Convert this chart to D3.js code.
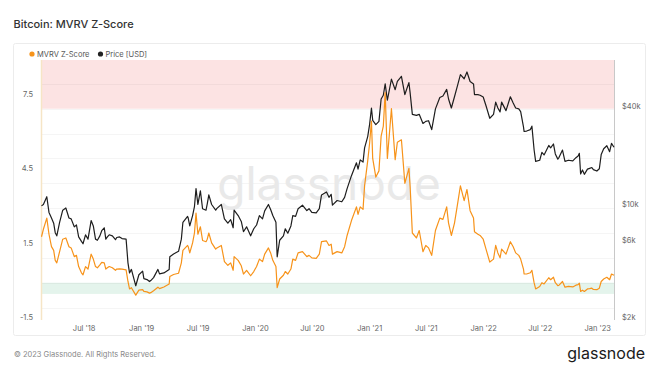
<!DOCTYPE html>
<html>
<head>
<meta charset="utf-8">
<script src="https://cdn.jsdelivr.net/npm/d3@7"></script>
<style>
  body { margin: 0; background: #fff; }
  svg { display: block; font-family: Inter, "Open Sans", sans-serif; }
</style>
</head>
<body>
<div id="chart"></div>
<script>
/////////////////////////////////////
///      DATA
/////////////////////////////////////

var dates = [
  // 2018
  "2018-02-16","2018-02-22","2018-03-05","2018-03-12","2018-03-20","2018-03-27","2018-04-01","2018-04-06","2018-04-15","2018-04-25",
  "2018-05-05","2018-05-15","2018-05-22","2018-06-01","2018-06-08","2018-06-15","2018-06-24","2018-06-29","2018-07-07","2018-07-15",
  "2018-07-25","2018-08-01","2018-08-08","2018-08-14","2018-08-22","2018-08-28","2018-09-05","2018-09-10","2018-09-15","2018-09-21",
  "2018-10-01","2018-10-11","2018-10-15","2018-10-24","2018-11-01","2018-11-14","2018-11-20","2018-11-25","2018-12-01","2018-12-15",
  "2018-12-25",
  // 2019
  "2019-01-06","2019-01-10","2019-01-20","2019-01-28","2019-02-01","2019-02-10","2019-02-24","2019-03-01","2019-03-15","2019-04-01",
  "2019-04-03","2019-04-15","2019-05-01","2019-05-10","2019-05-15","2019-05-30","2019-06-01","2019-06-06","2019-06-15","2019-06-21",
  "2019-06-26","2019-07-02","2019-07-10","2019-07-17","2019-07-28","2019-08-01","2019-08-06","2019-08-15","2019-08-28","2019-09-01",
  "2019-09-15","2019-09-25","2019-10-06","2019-10-15","2019-10-23","2019-10-26","2019-11-08","2019-11-18","2019-11-25","2019-12-05",
  "2019-12-18","2019-12-28",
  // 2020
  "2020-01-06","2020-01-15","2020-01-25","2020-02-01","2020-02-13","2020-02-20","2020-02-27","2020-03-08","2020-03-12","2020-03-20",
  "2020-04-01","2020-04-07","2020-04-15","2020-04-25","2020-05-01","2020-05-10","2020-05-18","2020-06-01","2020-06-15","2020-06-22",
  "2020-07-01","2020-07-15","2020-07-25","2020-08-01","2020-08-17","2020-08-25","2020-09-01","2020-09-05","2020-09-20","2020-10-05",
  "2020-10-14","2020-10-22","2020-11-05","2020-11-21","2020-11-26","2020-12-03","2020-12-12","2020-12-17","2020-12-27",
  // 2021
  "2021-01-02","2021-01-08","2021-01-12","2021-01-22","2021-02-01","2021-02-08","2021-02-15","2021-02-21","2021-02-28","2021-03-13",
  "2021-03-25","2021-04-01","2021-04-14","2021-04-25","2021-05-08","2021-05-12","2021-05-19","2021-06-01","2021-06-10","2021-06-22",
  "2021-07-01","2021-07-10","2021-07-20","2021-08-01","2021-08-15","2021-08-25","2021-09-06","2021-09-12","2021-09-21","2021-10-01",
  "2021-10-10","2021-10-20","2021-11-01","2021-11-10","2021-11-20","2021-12-01","2021-12-04","2021-12-15","2021-12-22",
  // 2022
  "2022-01-01","2022-01-10","2022-01-22","2022-02-03","2022-02-10","2022-02-17","2022-02-24","2022-03-01","2022-03-15","2022-03-29",
  "2022-04-07","2022-04-15","2022-04-25","2022-05-01","2022-05-10","2022-05-12","2022-05-20","2022-06-01","2022-06-06","2022-06-13",
  "2022-06-18","2022-07-01","2022-07-08","2022-07-15","2022-07-30","2022-08-05","2022-08-14","2022-08-20","2022-08-28","2022-09-01",
  "2022-09-12","2022-09-20","2022-10-01","2022-10-15","2022-10-25","2022-11-01","2022-11-05","2022-11-09","2022-11-15","2022-11-21",
  "2022-12-01","2022-12-08","2022-12-15","2022-12-20","2022-12-31",
  // 2023
  "2023-01-08","2023-01-14","2023-01-22","2023-02-01","2023-02-10","2023-02-16","2023-02-24"
];

var mvrvZ = [
  // 2018
  1.85,2.15,2.6,1.95,1.45,1.3,0.9,0.8,1.25,1.75,
  1.8,1.45,1.4,1.05,1.1,0.65,0.4,0.32,0.65,0.55,
  1.15,0.95,0.65,0.6,0.72,0.82,0.8,0.55,0.6,0.65,
  0.6,0.5,0.55,0.56,0.55,0.52,0.05,-0.25,-0.2,-0.5,
  -0.3,
  // 2019
  -0.28,-0.35,-0.37,-0.42,-0.4,-0.32,-0.18,-0.24,-0.17,-0.05,
  0.25,0.33,0.38,0.8,1.3,1.5,1.45,1.2,1.6,2.0,
  2.8,1.95,2.25,1.7,1.65,1.75,2.0,1.6,1.35,1.4,
  1.5,0.85,0.7,0.8,0.5,1.05,0.9,0.68,0.35,0.5,
  0.28,0.45,
  // 2020
  0.65,0.95,0.85,1.15,1.4,1.2,0.9,0.65,-0.2,0.15,
  0.3,0.45,0.35,0.55,0.95,0.9,1.2,1.25,1.05,1.1,
  1.0,0.98,1.15,1.65,1.68,1.5,1.55,1.15,1.25,1.2,
  1.45,1.9,2.5,3.05,2.75,3.05,2.95,3.9,4.9,
  // 2021
  5.6,6.5,5.0,4.25,4.5,5.9,6.3,7.65,5.0,7.0,
  4.95,5.65,5.75,4.0,4.6,3.85,2.0,1.8,2.1,1.25,
  1.5,1.4,1.1,2.1,2.6,2.55,3.05,2.4,1.9,2.4,
  3.1,3.9,3.3,3.75,2.9,2.6,2.05,1.95,1.9,
  // 2022
  1.75,1.35,0.83,0.95,1.5,1.2,1.0,1.35,1.15,1.65,
  1.45,1.2,1.1,0.95,0.55,0.35,0.35,0.4,0.5,0.0,
  -0.25,-0.15,0.0,-0.05,0.2,0.12,0.22,0.0,-0.12,-0.1,
  0.05,-0.18,-0.15,-0.17,-0.1,-0.08,-0.02,-0.35,-0.3,-0.35,
  -0.25,-0.24,-0.22,-0.27,-0.28,
  // 2023
  -0.22,0.05,0.15,0.22,0.12,0.35,0.3
];

var priceUsd = [
  // 2018
  10100,10300,11500,9200,8500,7900,6900,6600,8000,9500,
  9800,8500,8400,7500,7700,6500,6100,5900,6700,6300,
  8200,7600,6300,6200,6600,7100,7400,6300,6500,6700,
  6600,6250,6450,6500,6350,6300,4500,3900,4100,3250,
  3800,
  // 2019
  4000,3600,3550,3450,3500,3650,4100,3850,3900,4100,
  4900,5100,5300,6300,8000,8700,8500,7600,8800,10000,
  12900,10300,12500,9700,9500,10400,11800,10300,9500,9750,
  10300,8400,7900,8300,7400,9500,8800,8100,7000,7500,
  6600,7300,
  // 2020
  7700,8800,8400,9400,10300,9600,8800,8000,4900,6200,
  6600,7300,6850,7600,8800,8700,9700,10200,9450,9700,
  9200,9150,9700,11800,12300,11400,11900,10200,10900,10700,
  11400,12900,15500,18600,17000,19400,18800,23000,27000,
  // 2021
  32000,40500,34000,32000,33500,46000,48500,57000,45200,61000,
  52500,59000,63500,49000,58000,50000,37000,36500,37000,32500,
  33500,33800,29800,40000,47000,48000,52700,46000,40500,47500,
  55000,65000,61300,67500,59000,57000,49000,48900,48500,
  // 2022
  47300,41800,35000,37000,44000,40500,38300,44000,39000,47500,
  43500,40500,40000,38500,31000,29000,29200,29800,31300,22400,
  19000,19300,21600,20800,23800,23000,24300,21100,19600,20100,
  22300,19000,19300,19100,20000,20500,21300,15900,16800,15800,
  17000,17200,17400,16900,16550,
  // 2023
  17100,20900,22700,23700,21800,24500,23200
];

var zTicks = [-1.5, 1.5, 4.5, 7.5];
var zGrid = [-1, 0, 1, 2, 3, 4, 5, 6, 7, 8];
var priceTicks = [2000, 6000, 10000, 40000];
var xTicks = ["2018-07-01","2019-01-01","2019-07-01","2020-01-01","2020-07-01",
              "2021-01-01","2021-07-01","2022-01-01","2022-07-01","2023-01-01"];
var redZone = [7, 8.96];
var greenZone = [-0.45, 0];

/////////////////////////////////////
///      CHART
/////////////////////////////////////

var width = 660, height = 372;
var margin = {left: 41.5, right: 46, top: 60, bottom: 52};
var parse = d3.timeParse("%Y-%m-%d");

var data = dates.map(function(d, i) {
  return {date: parse(d), z: mvrvZ[i], price: priceUsd[i]};
});

var svg = d3.select("#chart").append("svg")
  .attr("width", width)
  .attr("height", height);

var x = d3.scaleTime()
  .domain([parse("2018-02-16"), parse("2023-02-24")])
  .range([margin.left, width - margin.right]);
var yZ = d3.scaleLinear()
  .domain([-1.5, 8.96])
  .range([height - margin.bottom, margin.top]);
var yP = d3.scaleLog()
  .domain([2000, 80000])
  .range([height - margin.bottom, margin.top]);

// title
svg.append("text")
  .attr("x", 13.5).attr("y", 28)
  .attr("font-size", 11).attr("font-weight", 500).attr("fill", "#333")
  .text("Bitcoin: MVRV Z-Score");

// card
svg.append("rect")
  .attr("x", 13.5).attr("y", 43.5)
  .attr("width", 632).attr("height", 292)
  .attr("rx", 2)
  .attr("fill", "#fff").attr("stroke", "#ececec");

// legend
var legend = [{name: "MVRV Z-Score", color: "#f7931a", x: 32}, {name: "Price [USD]", color: "#222", x: 100.5}];
legend.forEach(function(l) {
  svg.append("circle").attr("cx", l.x).attr("cy", 54).attr("r", 2.6).attr("fill", l.color);
  svg.append("text").attr("x", l.x + 5).attr("y", 56.8)
    .attr("font-size", 7.5).attr("fill", "#555").text(l.name);
});

var x0 = margin.left, x1 = width - margin.right;

// zones
svg.append("rect")
  .attr("x", x0).attr("width", x1 - x0)
  .attr("y", yZ(redZone[1])).attr("height", yZ(redZone[0]) - yZ(redZone[1]))
  .attr("fill", "#fce3e3");
svg.append("rect")
  .attr("x", x0).attr("width", x1 - x0)
  .attr("y", yZ(greenZone[1])).attr("height", yZ(greenZone[0]) - yZ(greenZone[1]))
  .attr("fill", "#e4f4ec");

// grid
svg.append("g").selectAll("line")
  .data(zGrid).enter().append("line")
  .attr("x1", x0).attr("x2", x1)
  .attr("y1", function(d) { return Math.round(yZ(d)) + 0.5; })
  .attr("y2", function(d) { return Math.round(yZ(d)) + 0.5; })
  .attr("stroke", "#000").attr("stroke-opacity", 0.04);

// watermark
svg.append("text")
  .attr("x", 329).attr("y", 200)
  .attr("text-anchor", "middle")
  .attr("font-size", 46).attr("fill", "#e9e9e9")
  .text("glassnode");

// axes lines
svg.append("line").attr("x1", x0).attr("x2", x0)
  .attr("y1", margin.top).attr("y2", height - margin.bottom)
  .attr("stroke", "#f6e5c6").attr("stroke-width", 1.5);
svg.append("line").attr("x1", x1 + 0.5).attr("x2", x1 + 0.5)
  .attr("y1", margin.top).attr("y2", height - margin.bottom)
  .attr("stroke", "#c8c8c8");

// lines
var priceLine = d3.line()
  .x(function(d) { return x(d.date); })
  .y(function(d) { return yP(d.price); });
var zLine = d3.line()
  .x(function(d) { return x(d.date); })
  .y(function(d) { return yZ(d.z); });

svg.append("path").datum(data)
  .attr("d", priceLine)
  .attr("fill", "none").attr("stroke", "#1e1e1e").attr("stroke-width", 1.2)
  .attr("stroke-linejoin", "round");
svg.append("path").datum(data)
  .attr("d", zLine)
  .attr("fill", "none").attr("stroke", "#f7931a").attr("stroke-width", 1.2)
  .attr("stroke-linejoin", "round");

// axis labels
function styleAxis(g) {
  g.select(".domain").remove();
  g.selectAll("line").remove();
  g.selectAll("text").attr("font-size", 7.5).attr("fill", "#666")
    .attr("font-family", "Inter, sans-serif");
}

svg.append("g")
  .attr("transform", "translate(" + x0 + ",0)")
  .call(d3.axisLeft(yZ).tickValues(zTicks).tickSize(0).tickPadding(8.5)
        .tickFormat(function(d) { return d3.format(".1f")(d).replace("−", "-"); }))
  .call(styleAxis)
  .selectAll("text").attr("y", -2.5);

svg.append("g")
  .attr("transform", "translate(" + x1 + ",0)")
  .call(d3.axisRight(yP).tickValues(priceTicks).tickSize(0).tickPadding(8)
        .tickFormat(function(d) { return "$" + d / 1000 + "k"; }))
  .call(styleAxis)
  .selectAll("text").attr("y", -2.5);

svg.append("g")
  .attr("transform", "translate(0," + (height - margin.bottom) + ")")
  .call(d3.axisBottom(x).tickValues(xTicks.map(parse)).tickSize(0).tickPadding(6)
        .tickFormat(d3.timeFormat("%b '%y")))
  .call(styleAxis);

// footer
svg.append("text")
  .attr("x", 14).attr("y", 357)
  .attr("font-size", 7.5).attr("fill", "#888")
  .text("© 2023 Glassnode. All Rights Reserved.");
svg.append("text")
  .attr("x", 645).attr("y", 359)
  .attr("text-anchor", "end")
  .attr("font-size", 16).attr("fill", "#1a1a1a")
  .text("glassnode");
</script>
</body>
</html>
